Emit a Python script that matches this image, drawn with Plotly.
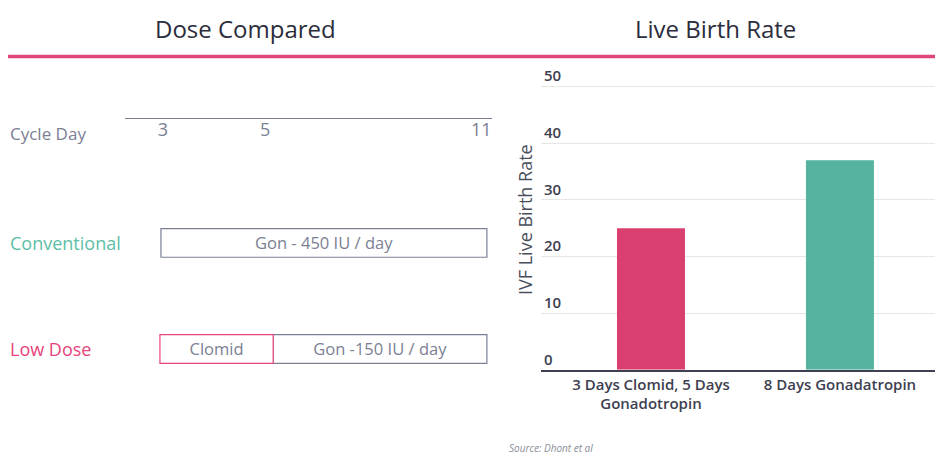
import plotly.graph_objects as go

# ---- data ----
rate_categories = ["3 Days Clomid, 5 Days<br>Gonadotropin", "8 Days Gonadatropin"]
rate_values = [25, 37]
rate_colors = ["#d9406f", "#55b3a0"]

day_labels = ["3", "5", "11"]
day_positions = [3, 5, 9.24]          # timeline is not drawn to scale in the original

regimens = ["Conventional", "Low Dose"]
regimen_colors = ["#5cbfa6", "#e8437a"]

sched_regimen = ["Conventional", "Low Dose", "Low Dose"]
sched_label = ["Gon - 450 IU / day", "Gon -150 IU / day", "Clomid"]
sched_start = [2.96, 5.16, 2.94]
sched_end = [9.35, 9.35, 5.16]
sched_border = ["#7a7f95", "#7a7f95", "#e8437a"]

GREY = "#7b8093"
DARK = "#2b2d3c"
FONT = "Open Sans"

# page body has an 8px margin; figure is sized to fit the window
OFF = 8
W, H = 943 - OFF, 460 - OFF


def px(p):
    return (p - OFF) / W


def py(p):
    return 1 - (p - OFF) / H


fig = go.Figure()

# right: live birth rate bars
fig.add_trace(go.Bar(
    x=[0, 1], y=rate_values, marker=dict(color=rate_colors, line=dict(width=0)),
    width=0.36, xaxis="x", yaxis="y", showlegend=False, hoverinfo="y"))

# left: schedule boxes
for reg, lab, s, e, col in zip(sched_regimen, sched_label, sched_start, sched_end, sched_border):
    fig.add_trace(go.Bar(
        y=[reg], x=[e - s], base=[s], orientation="h", width=0.27,
        marker=dict(color="white", line=dict(color=col, width=1.2)),
        text=[lab], textposition="inside", insidetextanchor="middle",
        textfont=dict(family=FONT, size=19, color=GREY),
        xaxis="x2", yaxis="y2", showlegend=False, hoverinfo="text"))

fig.update_layout(
    width=W, height=H,
    margin=dict(l=0, r=0, t=0, b=0),
    paper_bgcolor="white", plot_bgcolor="white",
    barmode="overlay",
    font=dict(family=FONT, color=DARK),
    xaxis=dict(
        domain=[px(541), px(935)], range=[-0.582, 1.503],
        tickvals=[0, 1], ticktext=rate_categories,
        tickfont=dict(family=FONT, size=15, color="#3d4050", weight=600),
        showline=True, linecolor="#3d4050", linewidth=2,
        showgrid=False, zeroline=False, ticks="", fixedrange=True,
    ),
    yaxis=dict(
        domain=[py(369), py(66)], range=[0, 53],
        tickvals=[0, 10, 20, 30, 40, 50], anchor="x",
        ticklabelposition="inside top", ticklabeloverflow="allow",
        tickfont=dict(family=FONT, size=15, color="#3d4050", weight=600),
        showgrid=True, gridcolor="#e6e6e6", gridwidth=1,
        zeroline=False, showline=False, ticks="",
        title=dict(text="IVF Live Birth Rate", font=dict(family=FONT, size=18, color="#4a4e5c"), standoff=6),
    ),
    xaxis2=dict(
        domain=[px(125), px(492)], range=[2.255, 9.45],
        side="top", anchor="y2",
        tickvals=day_positions, ticktext=day_labels,
        ticklabelposition="inside", ticklabeloverflow="allow", ticklabelstandoff=5,
        tickfont=dict(family=FONT, size=18, color=GREY),
        showline=True, linecolor="#7a7f95", linewidth=1,
        showgrid=False, zeroline=False, ticks="",
    ),
    yaxis2=dict(
        domain=[py(398), py(116)], range=[1.467, -1.168],
        type="category", categoryarray=regimens, anchor="x2",
        showticklabels=False, showgrid=False, zeroline=False, showline=False, ticks="",
    ),
)

annotations = [
    dict(text="Dose Compared", x=px(245), y=py(25), xref="paper", yref="paper",
         showarrow=False, font=dict(family=FONT, size=24, color=DARK), xanchor="center", yanchor="middle"),
    dict(text="Live Birth Rate", x=px(715), y=py(25), xref="paper", yref="paper",
         showarrow=False, font=dict(family=FONT, size=24, color=DARK), xanchor="center", yanchor="middle"),
    dict(text="Cycle Day", x=px(8), y=py(131), xref="paper", yref="paper",
         showarrow=False, font=dict(family=FONT, size=17, color=GREY), xanchor="left", yanchor="middle"),
    dict(text="<i>Source: Dhont et al</i>", x=px(507), y=py(448), xref="paper", yref="paper",
         showarrow=False, font=dict(family=FONT, size=10, color="#8a8d99"), xanchor="left", yanchor="middle"),
]
for reg, col in zip(regimens, regimen_colors):
    annotations.append(dict(text=reg, x=px(8), y=reg, xref="paper", yref="y2",
                            showarrow=False, font=dict(family=FONT, size=18, color=col),
                            xanchor="left", yanchor="middle"))
fig.update_layout(annotations=annotations)

fig.add_shape(type="line", xref="paper", yref="paper", x0=0, x1=1,
              y0=py(53), y1=py(53), line=dict(color="#e0457b", width=3.5))

fig.write_html("out.html")
